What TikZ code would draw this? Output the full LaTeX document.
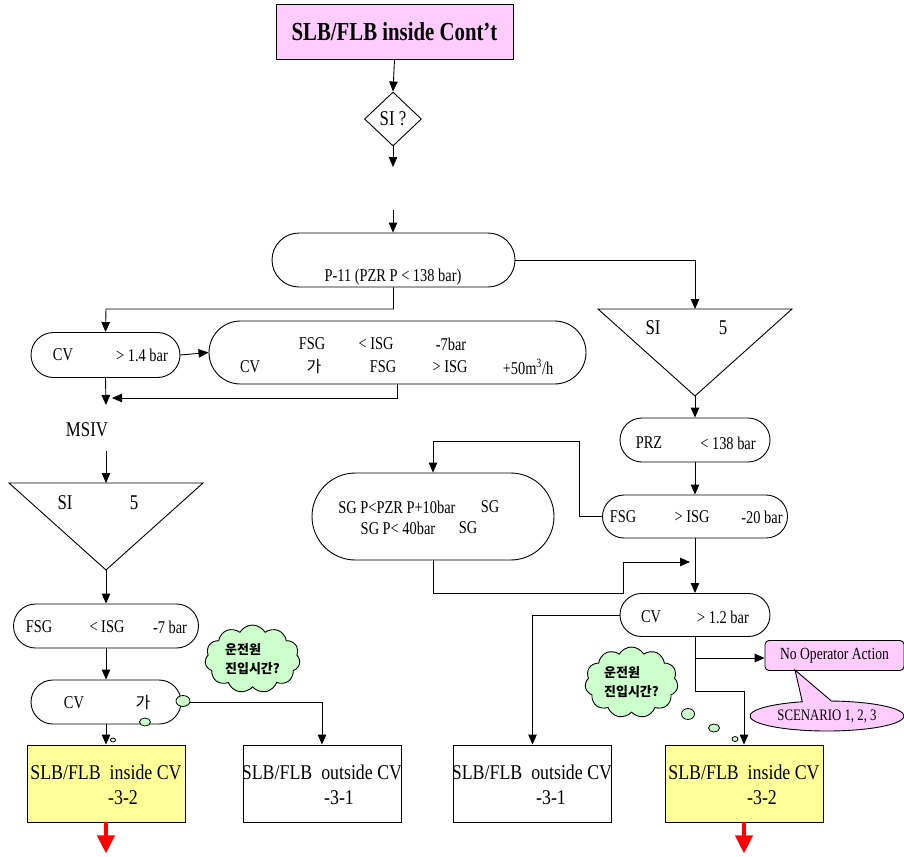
\documentclass[tikz,border=0pt]{standalone}
\usepackage{fontspec}
\setmainfont{Liberation Serif}[FakeStretch=0.8]
\newfontfamily\widefont{Liberation Serif}[FakeStretch=0.85]
\newfontfamily\kr{Noto Sans CJK KR}
\usetikzlibrary{arrows.meta,shapes.geometric,shapes.misc,shapes.symbols,shapes.callouts}
\definecolor{pinkf}{HTML}{FFCCFF}
\definecolor{yelf}{HTML}{FFFF99}
\definecolor{grnf}{HTML}{CCFFCC}
\begin{document}
\begin{tikzpicture}[x=1pt,y=-1pt,line width=0.9pt,
  arr/.style={-{Triangle[length=10pt,width=8.5pt]}},
  redarr/.style={draw=red,line width=4pt,-{Triangle[length=18pt,width=17pt]}},
  pill/.style={draw,rounded rectangle,inner sep=0pt},
  txt/.style={inner sep=0pt,font=\fontsize{18}{20}\selectfont},
  bigtxt/.style={inner sep=0pt,font=\widefont\fontsize{21}{23}\selectfont},
  krtxt/.style={inner sep=0pt,font=\kr\fontsize{16}{18}\selectfont},
  endbox/.style={draw,rectangle,minimum width=158pt,minimum height=77pt,inner sep=0pt},
  cloudbox/.style={draw,fill=grnf,cloud,cloud puffs=11,cloud puff arc=120,aspect=1.4,
     inner sep=0pt,align=left,font=\kr\bfseries\fontsize{13}{19}\selectfont},
  bub/.style={draw,fill=grnf,ellipse,inner sep=0pt,line width=0.8pt}]
\fill[white] (0,0) rectangle (904,856);
\useasboundingbox (0,0) rectangle (904,856);

% ---------- top ----------
\node[draw,fill=pinkf,minimum width=237pt,minimum height=55pt,inner sep=0pt,
      font=\bfseries\fontsize{26}{28}\selectfont] (title) at (394.5,31.5) {SLB/FLB inside Cont'{}t};
\node[draw,diamond,minimum width=57pt,minimum height=54pt,inner sep=0pt,
      font=\fontsize{21}{23}\selectfont] (si) at (393,119) {SI ?};
\coordinate (a1) at (393,167);
\coordinate (a2) at (393,210);

\node[pill,minimum width=243pt,minimum height=54pt] (p11) at (393.5,260) {};
\node[txt] (p11t) at (393,277) {P-11 (PZR P < 138 bar)};

% ---------- left branch ----------
\node[pill,minimum width=149pt,minimum height=45pt] (cv1) at (105.5,355) {};
\node[txt] (cv1a) at (63,355) {CV};
\node[txt] (cv1b) at (142,355) {> 1.4 bar};

\node[pill,minimum width=377pt,minimum height=63pt] (big) at (397.5,352.5) {};
\node[txt] (b1) at (312,344) {FSG};
\node[txt] (b2) at (376,344) {< ISG};
\node[txt] (b3) at (451,344) {-7bar};
\node[txt] (b4) at (250,367) {CV};
\node[krtxt] (b5) at (314,366) {가};
\node[txt] (b6) at (383,367) {FSG};
\node[txt] (b7) at (450,367) {> ISG};
\node[txt] (b8) at (528,367) {+50m\textsuperscript{3}/h};
\coordinate (j1) at (112,398);
\coordinate (j2) at (106,405);

\node[txt,font=\fontsize{21}{23}\selectfont] (msiv) at (87,430) {MSIV};
\coordinate (j3) at (106,451);

\coordinate (tlA) at (9,483);
\coordinate (tlB) at (203,483);
\coordinate (tlC) at (106,570);
\coordinate (tlT) at (106,483);
\node[txt,font=\fontsize{21}{23}\selectfont] (tl1) at (65,503) {SI};
\node[txt,font=\fontsize{21}{23}\selectfont] (tl2) at (134,503) {5};

\node[pill,minimum width=185pt,minimum height=44pt] (fsgL) at (106,626) {};
\node[txt] (fl1) at (39,627) {FSG};
\node[txt] (fl2) at (107,627) {< ISG};
\node[txt] (fl3) at (170,627) {-7 bar};

\node[pill,minimum width=150pt,minimum height=44pt] (cvL) at (106,702) {};
\node[txt] (cl1) at (74,703) {CV};
\node[krtxt] (cl2) at (143,702) {가};

\node[endbox,fill=yelf] (inL) at (106,783.5) {};
\node[bigtxt] (inL1) at (106,772) {SLB/FLB\ \ inside CV};
\node[bigtxt] (inL2) at (123,798) {-3-2};
\node[endbox] (outL) at (322,783.5) {};
\node[bigtxt] (outL1) at (322,772) {SLB/FLB\ \ outside CV};
\node[bigtxt] (outL2) at (339,798) {-3-1};

% ---------- right branch ----------
\coordinate (trA) at (598,309);
\coordinate (trB) at (792,309);
\coordinate (trC) at (695,396);
\coordinate (trT) at (695,309);
\node[txt,font=\fontsize{21}{23}\selectfont] (tr1) at (653,328) {SI};
\node[txt,font=\fontsize{21}{23}\selectfont] (tr2) at (723,328) {5};

\node[pill,minimum width=150pt,minimum height=44pt] (prz) at (695,440) {};
\node[txt] (pz1) at (649,443) {PRZ};
\node[txt] (pz2) at (728,443) {< 138 bar};

\node[pill,minimum width=185pt,minimum height=43pt] (fsgR) at (695,516.5) {};
\node[txt] (fr1) at (623,517) {FSG};
\node[txt] (fr2) at (692,517) {> ISG};
\node[txt] (fr3) at (762,517) {-20 bar};

\node[pill,minimum width=242pt,minimum height=87pt] (sg) at (433,516.5) {};
\node[txt] (sg1) at (397,507) {SG P<PZR P+10bar};
\node[txt] (sg2) at (490,507) {SG};
\node[txt] (sg3) at (398,528) {SG P< 40bar};
\node[txt] (sg4) at (468,528) {SG};
\coordinate (k1) at (579,441);
\coordinate (k2) at (623,593);
\coordinate (k3) at (623,562);
\coordinate (k4) at (690,562);

\node[pill,minimum width=150pt,minimum height=43pt] (cvR) at (695,615) {};
\node[txt] (cr1) at (651,617) {CV};
\node[txt] (cr2) at (723,617) {> 1.2 bar};
\coordinate (k5) at (695,658);
\coordinate (k6) at (744,691);

\node[draw,fill=pinkf,rounded corners=4pt,minimum width=139pt,minimum height=30pt,inner sep=0pt,
      font=\fontsize{17}{19}\selectfont] (noop) at (834.5,655.5) {No Operator Action};
\coordinate (tip) at (795,670);
\node[draw,fill=pinkf,ellipse callout,callout absolute pointer=(tip),callout pointer arc=22,
      minimum width=154pt,minimum height=30pt,inner sep=0pt,
      font=\fontsize{16}{18}\selectfont] (scen) at (827,716) {SCENARIO 1, 2, 3};

\node[endbox] (outR) at (532.5,783.5) {};
\node[bigtxt] (outR1) at (532,772) {SLB/FLB\ \ outside CV};
\node[bigtxt] (outR2) at (551,798) {-3-1};
\node[endbox,fill=yelf] (inR) at (744,783.5) {};
\node[bigtxt] (inR1) at (744,772) {SLB/FLB\ \ inside CV};
\node[bigtxt] (inR2) at (762,798) {-3-2};

% ---------- shapes drawn directly ----------
\draw (tlA) -- (tlB) -- (tlC) -- cycle;
\draw (trA) -- (trB) -- (trC) -- cycle;

% ---------- connectors ----------
\draw[arr] (title.south) -- (si.north);
\draw[arr] (si.south) -- (a1);
\draw[arr] (a2) -- (a2 |- p11.north);
\draw[arr] (p11.east) -| (trT);
\draw[arr] (p11.south) |- (106,309) -- (cv1.north);
\draw[arr] (cv1.east) -- (big.west);
\draw[arr] (big.south) |- (j1);
\draw[arr] (cv1.south) -- (j2);
\draw[arr] (j3) -- (tlT);
\draw[arr] (tlC) -- (fsgL.north);
\draw[arr] (fsgL.south) -- (cvL.north);
\draw[arr] (cvL.south) -- (inL.north);
\draw[arr] (cvL.east) -| (outL.north);
\draw[redarr] (inL.south) -- ++(0,31);

\draw[arr] (trC) -- (prz.north);
\draw[arr] (prz.south) -- (fsgR.north);
\draw[arr] (fsgR.west) -| (k1) -| (sg.north);
\draw[arr] (sg.south) |- (k2) -- (k3) -- (k4);
\draw[arr] (fsgR.south) -- (cvR.north);
\draw[arr] (cvR.west) -| (outR.north);
\draw[arr] (cvR.south) |- (k6) -- (inR.north);
\draw[arr] (k5) -- (k5 -| noop.west);
\draw[redarr] (inR.south) -- ++(0,31);

% ---------- thought clouds ----------
\node[cloudbox,minimum width=95pt,minimum height=68pt] (cloudL) at (252.5,659) {운전원\\진입시간?};
\node[bub,minimum width=14pt,minimum height=11pt] (bl1) at (183,701) {};
\node[bub,minimum width=11pt,minimum height=8pt] (bl2) at (145,722) {};
\node[bub,minimum width=5pt,minimum height=4pt] (bl3) at (113,740) {};

\node[cloudbox,minimum width=93pt,minimum height=71pt] (cloudR) at (631.5,682.5) {운전원\\진입시간?};
\node[bub,minimum width=13pt,minimum height=11pt] (br1) at (688,714) {};
\node[bub,minimum width=11pt,minimum height=8pt] (br2) at (714,728) {};
\node[bub,minimum width=6pt,minimum height=5pt] (br3) at (735,739) {};
\end{tikzpicture}
\end{document}
